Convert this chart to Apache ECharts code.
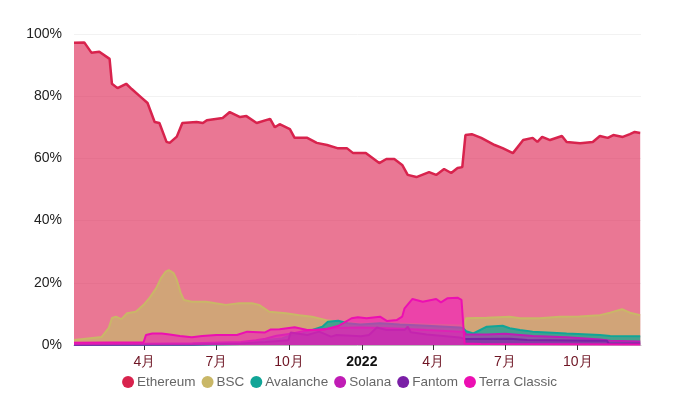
<!DOCTYPE html>
<html>
<head>
<meta charset="utf-8">
<script src="https://cdn.jsdelivr.net/npm/echarts@6/dist/echarts.min.js"></script>
<style>
html,body{margin:0;padding:0;background:#fff;}
#chart{width:679px;height:402px;}
</style>
</head>
<body>
<div id="chart"></div>
<script>
const seriesNames = ['Ethereum', 'BSC', 'Avalanche', 'Solana', 'Fantom', 'Terra Classic'];

const ethereum = [
  ['2021-01-02',97.2],['2021-01-15',97.3],['2021-01-24',94.0],['2021-02-03',94.3],['2021-02-16',92.0],
  ['2021-02-19',84.0],['2021-02-26',82.6],['2021-03-09',84.0],['2021-03-16',82.3],['2021-03-29',79.4],
  ['2021-04-05',77.8],['2021-04-14',71.7],['2021-04-20',71.4],['2021-04-29',65.3],['2021-05-03',65.0],
  ['2021-05-12',67.0],['2021-05-19',71.4],['2021-06-06',71.7],['2021-06-14',71.4],['2021-06-19',72.3],
  ['2021-07-09',73.0],['2021-07-18',74.9],['2021-07-31',73.3],['2021-08-08',73.6],['2021-08-21',71.4],
  ['2021-09-07',72.7],['2021-09-13',70.0],['2021-09-19',71.0],['2021-10-02',69.4],['2021-10-08',66.6],
  ['2021-10-24',66.6],['2021-11-05',65.0],['2021-11-18',64.3],['2021-12-01',63.3],['2021-12-13',63.3],
  ['2021-12-21',61.7],['2022-01-06',61.7],['2022-01-23',58.5],['2022-02-01',59.8],['2022-02-11',59.8],
  ['2022-02-21',57.9],['2022-02-28',54.7],['2022-03-11',54.0],['2022-03-27',55.6],['2022-04-05',54.7],
  ['2022-04-15',56.6],['2022-04-24',55.3],['2022-05-02',56.9],['2022-05-08',57.2],['2022-05-12',67.5],
  ['2022-05-20',67.8],['2022-06-01',66.6],['2022-06-18',64.3],['2022-06-28',63.3],['2022-07-11',61.7],
  ['2022-07-24',65.9],['2022-08-05',66.6],['2022-08-11',65.3],['2022-08-17',66.9],['2022-08-27',65.9],
  ['2022-09-11',67.2],['2022-09-17',65.3],['2022-10-04',64.9],['2022-10-20',65.3],['2022-10-29',67.2],
  ['2022-11-08',66.6],['2022-11-15',67.5],['2022-11-27',66.9],['2022-12-06',67.8],['2022-12-12',68.5],
  ['2022-12-19',68.2]
];

const bsc = [
  ['2021-01-02',1.6],['2021-02-06',2.6],['2021-02-15',5.5],['2021-02-19',8.7],['2021-02-24',9.1],
  ['2021-03-03',8.3],['2021-03-10',10.2],['2021-03-21',10.7],['2021-03-31',12.9],['2021-04-08',15.3],
  ['2021-04-16',18.3],['2021-04-22',21.5],['2021-04-28',23.6],['2021-05-02',24.1],['2021-05-08',23.1],
  ['2021-05-12',20.9],['2021-05-17',16.7],['2021-05-21',14.5],['2021-05-31',13.9],['2021-06-18',13.9],
  ['2021-06-30',13.4],['2021-07-13',12.9],['2021-07-30',13.4],['2021-08-15',13.4],['2021-08-24',12.9],
  ['2021-09-06',10.7],['2021-09-27',10.2],['2021-10-14',9.6],['2021-10-30',9.1],['2021-11-17',8.0],
  ['2021-12-03',7.5],['2021-12-29',6.8],['2022-02-09',7.0],['2022-03-24',6.6],['2022-05-05',6.3],
  ['2022-05-11',6.3],['2022-05-13',8.6],['2022-06-08',8.8],['2022-07-07',9.1],['2022-07-20',8.6],
  ['2022-08-14',8.6],['2022-09-08',9.1],['2022-10-03',9.2],['2022-10-29',9.6],['2022-11-11',10.4],
  ['2022-11-26',11.5],['2022-12-06',10.4],['2022-12-19',9.6]
];

const avalanche = [
  ['2021-01-02',0.05],['2021-06-01',0.1],['2021-08-01',0.3],['2021-08-19',1.0],['2021-09-02',1.6],
  ['2021-09-22',2.1],['2021-10-04',3.2],['2021-10-17',3.7],['2021-11-12',5.9],['2021-11-19',7.5],
  ['2021-12-02',7.8],['2021-12-14',7.0],['2021-12-30',6.6],['2022-01-24',7.0],['2022-02-18',6.6],
  ['2022-03-24',6.2],['2022-05-05',5.6],['2022-05-09',5.4],['2022-05-13',4.4],['2022-05-22',3.7],
  ['2022-06-08',5.9],['2022-06-28',6.2],['2022-07-07',5.4],['2022-07-20',4.8],['2022-08-05',4.3],
  ['2022-09-17',3.7],['2022-10-29',3.2],['2022-11-11',2.9],['2022-12-19',2.8]
];

const solana = [
  ['2021-01-02',0.2],['2021-04-01',0.4],['2021-06-01',0.6],['2021-08-01',1.0],['2021-08-20',1.5],
  ['2021-09-01',2.0],['2021-09-15',3.0],['2021-10-01',3.5],['2021-10-20',4.5],['2021-11-10',5.0],
  ['2021-12-01',5.5],['2021-12-30',5.6],['2022-01-24',5.5],['2022-02-20',5.2],['2022-03-24',4.8],
  ['2022-05-05',4.3],['2022-05-11',4.2],['2022-05-13',3.4],['2022-06-08',3.4],['2022-07-01',3.6],
  ['2022-08-05',2.9],['2022-09-17',2.5],['2022-10-29',1.8],['2022-11-11',1.4],['2022-12-19',1.1]
];

const fantom = [
  ['2021-01-02',0.05],['2021-06-01',0.2],['2021-08-01',0.5],['2021-09-01',1.0],['2021-09-30',1.5],
  ['2021-10-03',4.0],['2021-10-24',3.2],['2021-11-08',4.3],['2021-11-23',2.7],['2021-11-30',3.2],
  ['2021-12-31',2.8],['2022-01-10',3.2],['2022-01-20',5.6],['2022-02-01',4.8],['2022-02-24',4.8],
  ['2022-02-28',5.9],['2022-03-04',4.1],['2022-03-24',3.4],['2022-05-05',2.4],['2022-05-12',1.9],
  ['2022-07-07',2.0],['2022-07-29',1.6],['2022-10-20',1.4],['2022-11-07',1.4],['2022-11-09',0.5],
  ['2022-12-19',0.5]
];

const terraClassic = [
  ['2021-01-02',0.7],['2021-03-31',0.9],['2021-04-03',3.2],['2021-04-11',3.7],['2021-04-23',3.7],
  ['2021-05-03',3.4],['2021-05-16',2.9],['2021-05-31',2.5],['2021-06-13',2.9],['2021-07-01',3.2],
  ['2021-07-27',3.2],['2021-08-09',4.3],['2021-08-31',4.0],['2021-09-08',5.0],['2021-09-19',5.1],
  ['2021-10-08',5.7],['2021-10-24',4.8],['2021-11-15',5.0],['2021-12-02',6.1],['2021-12-19',8.6],
  ['2021-12-27',8.9],['2022-01-07',8.6],['2022-01-24',9.1],['2022-02-02',7.7],['2022-02-14',8.0],
  ['2022-02-21',9.1],['2022-02-24',11.8],['2022-03-06',14.8],['2022-03-19',13.9],['2022-04-05',14.8],
  ['2022-04-11',13.7],['2022-04-19',15.0],['2022-05-02',15.2],['2022-05-07',14.5],['2022-05-11',0.5],
  ['2022-06-01',0.3],['2022-12-19',0.2]
];

const yTicks = [0, 20, 40, 60, 80, 100];

const lineColors = ['#d8234d', '#c9b767', '#11a597', '#c01cb5', '#7a1fa6', '#ec0fb2'];
const areaColors = ['rgba(222,40,85,0.63)', 'rgba(207,168,118,0.93)', 'rgba(22,160,148,0.75)',
                    'rgba(192,40,180,0.6)', 'rgba(122,31,166,0.5)', 'rgba(236,40,180,0.65)'];
const datasets = [ethereum, bsc, avalanche, solana, fantom, terraClassic];
const DAY = 24 * 3600 * 1000;

const chart = echarts.init(document.getElementById('chart'), null, {renderer: 'canvas'});
chart.setOption({
  animation: false,
  backgroundColor: '#fff',
  color: lineColors,
  grid: {left: 74, right: 38, top: 34, bottom: 57, containLabel: false},
  legend: {
    bottom: 8, left: 'center', icon: 'circle', itemWidth: 12, itemHeight: 12, itemGap: 6,
    textStyle: {color: '#666', fontSize: 13.5, fontFamily: 'Liberation Sans, Arial, sans-serif', padding: [0, 0, 0, -2]},
    data: seriesNames
  },
  xAxis: {
    type: 'time',
    min: '2021-01-02', max: '2022-12-20',
    splitNumber: 7,
    minInterval: 89 * DAY,
    maxInterval: 92 * DAY,
    axisLine: {show: true, lineStyle: {color: '#bbb'}},
    axisTick: {show: true, length: 5, lineStyle: {color: '#333'}},
    splitLine: {show: false},
    axisLabel: {
      showMinLabel: false, showMaxLabel: false, margin: 10,
      formatter: function (v) {
        const d = new Date(v);
        if (d.getMonth() === 0) return '{y|' + d.getFullYear() + '}';
        return '{m|' + (d.getMonth() + 1) + '月}';
      },
      rich: {
        y: {fontWeight: 'bold', color: '#111', fontSize: 14, fontFamily: 'Liberation Sans, Arial, sans-serif'},
        m: {color: '#6e1423', fontSize: 14, fontFamily: 'Liberation Sans, Arial, sans-serif'}
      }
    }
  },
  yAxis: {
    type: 'value', min: yTicks[0], max: yTicks[yTicks.length - 1], interval: 20,
    axisLine: {show: false}, axisTick: {show: false},
    splitLine: {show: true, lineStyle: {color: '#f2f2f2'}},
    axisLabel: {formatter: '{value}%', color: '#222', fontSize: 14, margin: 12,
                fontFamily: 'Liberation Sans, Arial, sans-serif'}
  },
  series: seriesNames.map(function (name, i) {
    return {
      name: name, type: 'line', data: datasets[i], showSymbol: false, smooth: false,
      lineStyle: {color: lineColors[i], width: i === 0 ? 2.5 : 2},
      itemStyle: {color: lineColors[i]},
      areaStyle: {color: areaColors[i], opacity: 1},
      z: 2 + i
    };
  })
});
</script>
</body>
</html>
